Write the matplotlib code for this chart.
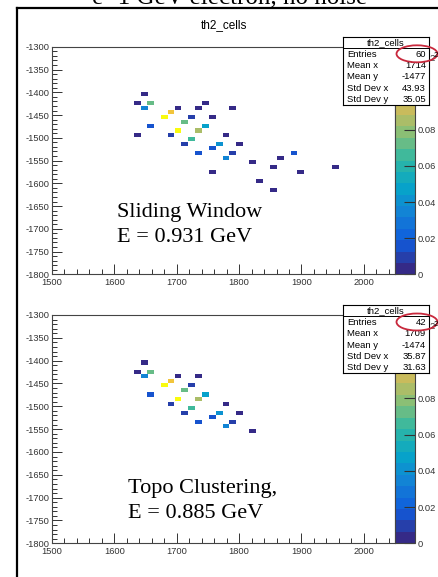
import numpy as np
import matplotlib
matplotlib.use('Agg')
import matplotlib.pyplot as plt
from matplotlib.colors import LinearSegmentedColormap, ListedColormap, BoundaryNorm
from matplotlib.cm import ScalarMappable
from matplotlib.patches import Ellipse
from matplotlib.lines import Line2D
from matplotlib.ticker import MultipleLocator

plt.rcParams['font.family'] = ['Liberation Sans', 'DejaVu Sans']
plt.rcParams['axes.unicode_minus'] = False

# ---- data: cell centres and energies (sliding window) ----
sw_x = [1648, 1637, 1658, 1648, 1691, 1702, 1680, 1735, 1746, 1724, 1757, 1713, 1658,
        1702, 1735, 1746, 1637, 1691, 1779, 1724, 1713, 1757, 1768, 1735, 1779, 1757,
        1790, 1801, 1790, 1822, 1855, 1866, 1888, 1899, 1833, 1855, 1955]
sw_y = [-1404, -1424, -1424, -1434, -1444, -1434, -1454, -1434, -1424, -1454, -1454, -1465, -1474,
        -1484, -1484, -1474, -1494, -1494, -1494, -1503, -1514, -1523, -1514, -1534, -1544, -1575,
        -1434, -1514, -1534, -1554, -1565, -1544, -1534, -1575, -1594, -1615, -1565]
sw_e = [0.004, 0.005, 0.072, 0.036, 0.104, 0.006, 0.124, 0.005, 0.004, 0.007, 0.005, 0.074, 0.018,
        0.120, 0.083, 0.050, 0.004, 0.009, 0.005, 0.068, 0.010, 0.016, 0.040, 0.018, 0.034, 0.004,
        0.004, 0.005, 0.007, 0.004, 0.005, 0.005, 0.015, 0.004, 0.004, 0.004, 0.005]

# ---- topo clustering ----
tc_x = [1648, 1637, 1658, 1648, 1691, 1702, 1735, 1680, 1724, 1713, 1658, 1702, 1735,
        1746, 1691, 1779, 1724, 1713, 1757, 1768, 1735, 1779, 1801, 1790, 1822]
tc_y = [-1404, -1424, -1424, -1434, -1444, -1434, -1434, -1454, -1454, -1465, -1474, -1484, -1484,
        -1474, -1494, -1494, -1503, -1514, -1523, -1514, -1534, -1544, -1514, -1534, -1554]
tc_e = [0.004, 0.005, 0.072, 0.036, 0.104, 0.006, 0.005, 0.124, 0.007, 0.074, 0.018, 0.120, 0.083,
        0.050, 0.009, 0.005, 0.068, 0.010, 0.016, 0.040, 0.018, 0.034, 0.005, 0.007, 0.004]

stat_names = ['Entries', 'Mean x', 'Mean y', 'Std Dev x', 'Std Dev y']
sw_stats = ['60', '1714', '-1477', '43.93', '35.05']
tc_stats = ['42', '1709', '-1474', '35.87', '31.63']
z_max = 0.126
cb_ticks = [0, 0.02, 0.04, 0.06, 0.08, 0.10, 0.12]

# ROOT kBird palette, 20 contours
stops = [0.0, 0.125, 0.25, 0.375, 0.5, 0.625, 0.75, 0.875, 1.0]
red = [0.2082, 0.0592, 0.0780, 0.0232, 0.1802, 0.5301, 0.8186, 0.9956, 0.9764]
green = [0.1664, 0.3599, 0.5041, 0.6419, 0.7178, 0.7492, 0.7328, 0.7862, 0.9832]
blue = [0.5293, 0.8684, 0.8385, 0.7914, 0.6425, 0.4662, 0.3499, 0.1968, 0.0539]
bird = LinearSegmentedColormap.from_list('bird', list(zip(stops, zip(red, green, blue))))
cmap = ListedColormap(bird(np.linspace(0, 1, 20)))
norm = BoundaryNorm(np.linspace(0, z_max, 21), cmap.N)

W, H = 439, 577
fig = plt.figure(figsize=(W / 100, H / 100), dpi=100)


def fbox(l, t, r, b):
    return [l / W, 1 - b / H, (r - l) / W, (b - t) / H]


def panel(top, bottom, xs, ys, es, stats, lines, base1, text_x):
    ax = fig.add_axes(fbox(52, top, 395, bottom))
    ax.bar(xs, 9, width=10.8, bottom=np.array(ys) - 4.5, color=cmap(norm(es)), linewidth=0)
    ax.set_xlim(1500, 2050)
    ax.set_ylim(-1800, -1300)
    ax.xaxis.set_major_locator(MultipleLocator(100))
    ax.xaxis.set_minor_locator(MultipleLocator(20))
    ax.yaxis.set_major_locator(MultipleLocator(50))
    ax.yaxis.set_minor_locator(MultipleLocator(10))
    ax.tick_params(which='both', direction='in', colors='#333333', labelsize=6.7, width=0.7)
    ax.tick_params(which='major', length=7, pad=3)
    ax.tick_params(which='minor', length=3.5)
    ax.tick_params(axis='y', pad=2)
    for s in ax.spines.values():
        s.set_color('#444444')
        s.set_linewidth(0.8)

    cax = fig.add_axes(fbox(395, top, 415, bottom))
    cb = fig.colorbar(ScalarMappable(norm=norm, cmap=cmap), cax=cax)
    cb.set_ticks(cb_ticks)
    cb.set_ticklabels(['%g' % t for t in cb_ticks])
    cb.outline.set_edgecolor('#444444')
    cb.outline.set_linewidth(0.8)
    cax.tick_params(direction='in', length=8, width=0.8, labelsize=6.7, pad=2, colors='#333333')
    cax.minorticks_off()

    # big labels
    fig.text(text_x / W, 1 - base1 / H, lines[0], family='Liberation Serif', fontsize=16, va='baseline')
    fig.text(text_x / W, 1 - (base1 + 25) / H, lines[1], family='Liberation Serif', fontsize=16, va='baseline')

    # stats box
    sb_top = top - 10
    sax = fig.add_axes(fbox(343, sb_top, 429, sb_top + 68), zorder=5)
    sax.set_xlim(0, 86)
    sax.set_ylim(68, 0)
    sax.set_xticks([])
    sax.set_yticks([])
    for s in sax.spines.values():
        s.set_linewidth(0.8)
    sax.axhline(11.3, color='black', lw=0.7)
    sax.text(43, 5.8, 'th2_cells', ha='center', va='center', fontsize=6.8)
    for i, (name, val) in enumerate(zip(stat_names, stats)):
        yy = 17.3 + i * 11.4
        sax.text(4, yy, name, ha='left', va='center', fontsize=6.8)
        sax.text(83, yy, val, ha='right', va='center', fontsize=6.8)

    # red ring round entries
    ey = sb_top + 17
    fig.add_artist(Ellipse((417 / W, 1 - ey / H), 41 / W, 17 / H, fill=False,
                           edgecolor='#c8283c', lw=1.3, zorder=10, transform=fig.transFigure))
    fig.text(434 / W, 1 - (ey + 2) / H, '2', fontsize=5.5, va='center', zorder=11)
    return ax


panel(46.8, 274.3, sw_x, sw_y, sw_e, sw_stats, ['Sliding Window', 'E = 0.931 GeV'], 217.5, 117)
panel(315, 543.3, tc_x, tc_y, tc_e, tc_stats, ['Topo Clustering,', 'E = 0.885 GeV'], 493, 128)

fig.text(224 / W, 1 - 25 / H, 'th2_cells', ha='center', va='center', fontsize=8.5)

# slide frame and clipped heading
fig.add_artist(Line2D([17 / W, 17 / W], [0, 1 - 8 / H], color='black', lw=1.6, transform=fig.transFigure))
fig.add_artist(Line2D([17 / W, 1], [1 - 8 / H, 1 - 8 / H], color='black', lw=1.6, transform=fig.transFigure))
fig.text(230 / W, 1 - 3 / H, 'e- 1 GeV electron, no noise', ha='center', va='baseline',
         family='Liberation Serif', fontsize=18)

fig.savefig('out.png', dpi=100)
